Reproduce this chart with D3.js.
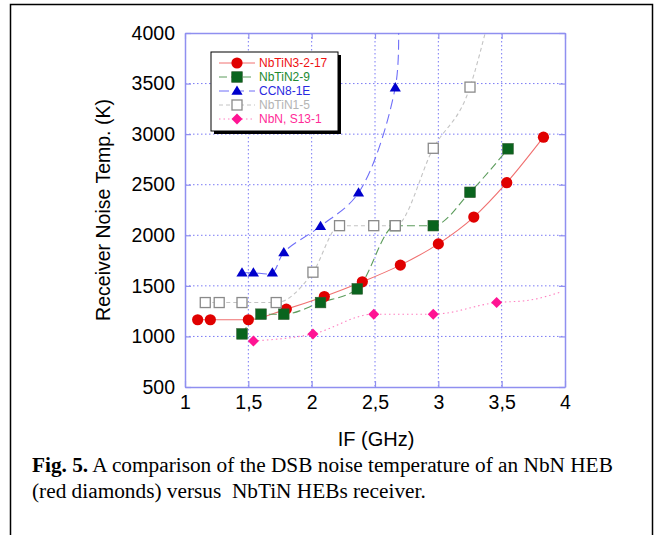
<!DOCTYPE html>
<html>
<head>
<meta charset="utf-8">
<script src="https://cdn.jsdelivr.net/npm/d3@7"></script>
<style>
body { margin: 0; background: #fff; }
svg { display: block; }
</style>
</head>
<body>
<div id="chart"></div>
<script>
// data
var xTicks = [1, 1.5, 2, 2.5, 3, 3.5, 4];
var xTickLabels = ['1', '1,5', '2', '2,5', '3', '3,5', '4'];
var yTicks = [500, 1000, 1500, 2000, 2500, 3000, 3500, 4000];

var seriesNames = ['NbTiN3-2-17', 'NbTiN2-9', 'CCN8-1E', 'NbTiN1-5', 'NbN, S13-1'];

var redIF = [1.10, 1.20, 1.50, 1.80, 2.10, 2.40, 2.70, 3.00, 3.28, 3.54, 3.83];
var redT = [1165, 1165, 1165, 1270, 1395, 1540, 1705, 1915, 2180, 2520, 2970];

var greenIF = [1.45, 1.60, 1.78, 2.07, 2.36, 2.66, 2.96, 3.25, 3.55];
var greenT = [1025, 1220, 1220, 1335, 1470, 2095, 2095, 2425, 2855];

var blueIF = [1.45, 1.54, 1.69, 1.78, 2.07, 2.37, 2.66];
var blueT = [1630, 1630, 1630, 1830, 2090, 2420, 3460];
var blueTail = [[2.685, 4100]];

var greyIF = [1.16, 1.27, 1.45, 1.72, 2.01, 2.22, 2.49, 2.66, 2.96, 3.25];
var greyT = [1335, 1335, 1335, 1335, 1635, 2095, 2095, 2095, 2860, 3465];
var greyTail = [[3.39, 4100]];

var pinkIF = [1.54, 2.01, 2.49, 2.96, 3.46];
var pinkT = [955, 1025, 1220, 1220, 1335];
var pinkTail = [[3.70, 1355], [3.97, 1440]];

var W = 658, H = 535;
var margin = {top: 33, left: 185};
var pw = 380, ph = 354;

var svg = d3.select('#chart').append('svg')
	.attr('width', W).attr('height', H);

svg.append('rect')
	.attr('x', 0).attr('y', 0).attr('width', W).attr('height', H)
	.attr('fill', '#fff');

// outer frame of the figure
svg.append('rect')
	.attr('x', 10.5).attr('y', 4.5).attr('width', 642).attr('height', 560)
	.attr('fill', 'none').attr('stroke', '#000').attr('stroke-width', 1.5);

var x = d3.scaleLinear().domain([1, 4]).range([0, pw]);
var y = d3.scaleLinear().domain([500, 4000]).range([ph, 0]);

var g = svg.append('g')
	.attr('transform', 'translate(' + [margin.left, margin.top] + ')');

g.append('clipPath').attr('id', 'plotclip')
	.append('rect').attr('width', pw).attr('height', ph);

var frameCol = '#8f8ff0';
var gridCol = '#7a7af5';

// dotted grid
g.selectAll('.vgrid')
	.data(xTicks.slice(1, -1))
	.enter().append('line')
	.attr('x1', function(d){ return x(d); }).attr('x2', function(d){ return x(d); })
	.attr('y1', 0).attr('y2', ph)
	.attr('stroke', gridCol).attr('stroke-width', 1).attr('stroke-dasharray', '1.5,2.5');

g.selectAll('.hgrid')
	.data(yTicks.slice(1, -1))
	.enter().append('line')
	.attr('y1', function(d){ return y(d); }).attr('y2', function(d){ return y(d); })
	.attr('x1', 0).attr('x2', pw)
	.attr('stroke', gridCol).attr('stroke-width', 1).attr('stroke-dasharray', '1.5,2.5');

// axes with inner ticks on all four sides
var axisB = g.append('g').attr('transform', 'translate(0,' + ph + ')')
	.call(d3.axisBottom(x).tickValues(xTicks).tickSizeInner(-6).tickSizeOuter(0)
		.tickFormat(function(d, i){ return xTickLabels[i]; }));
var axisT = g.append('g')
	.call(d3.axisTop(x).tickValues(xTicks).tickSizeInner(-6).tickSizeOuter(0).tickFormat(''));
var axisL = g.append('g')
	.call(d3.axisLeft(y).tickValues(yTicks).tickSizeInner(-6).tickSizeOuter(0)
		.tickFormat(d3.format('d')));
var axisR = g.append('g').attr('transform', 'translate(' + pw + ',0)')
	.call(d3.axisRight(y).tickValues(yTicks).tickSizeInner(-6).tickSizeOuter(0).tickFormat(''));

[axisB, axisT, axisL, axisR].forEach(function(a){
	a.select('.domain').attr('stroke', frameCol).attr('stroke-width', 1.5);
	a.selectAll('.tick line').attr('stroke', frameCol).attr('stroke-width', 1.2);
	a.selectAll('text')
		.attr('fill', '#000')
		.style('font-family', 'Liberation Sans, Arial, sans-serif')
		.style('font-size', '19.5px');
});
axisB.selectAll('text').attr('dy', '0.71em').attr('y', 8);
axisL.selectAll('text').attr('x', -10);

// series: colours, dashes, marker shapes
var series = [
	{name: seriesNames[0], xs: redIF, ys: redT, tail: [], line: '#f07070', dash: null, mark: '#e00000', text: '#ee1111', shape: 'circle', curve: d3.curveMonotoneX},
	{name: seriesNames[1], xs: greenIF, ys: greenT, tail: [], line: '#5c9c5c', dash: '8,4', mark: '#0a641e', text: '#218a30', shape: 'square', curve: d3.curveMonotoneX},
	{name: seriesNames[2], xs: blueIF, ys: blueT, tail: blueTail, line: '#6f6ff8', dash: '10,5', mark: '#0000cc', text: '#2a2ae0', shape: 'triangle', curve: d3.curveCatmullRom.alpha(0.5)},
	{name: seriesNames[3], xs: greyIF, ys: greyT, tail: greyTail, line: '#c4c4c4', dash: '4,3', mark: '#8a8a8a', text: '#b4b4b4', shape: 'open', curve: d3.curveMonotoneX},
	{name: seriesNames[4], xs: pinkIF, ys: pinkT, tail: pinkTail, line: '#ff80c0', dash: '1.5,3', mark: '#ff1493', text: '#ff2a98', shape: 'diamond', curve: d3.curveMonotoneX}
];

var linesG = g.append('g').attr('clip-path', 'url(#plotclip)');
series.forEach(function(s){
	var pts = s.xs.map(function(v, i){ return [v, s.ys[i]]; }).concat(s.tail);
	var lineGen = d3.line()
		.x(function(d){ return x(d[0]); })
		.y(function(d){ return y(d[1]); })
		.curve(s.curve);
	linesG.append('path')
		.attr('d', lineGen(pts))
		.attr('fill', 'none')
		.attr('stroke', s.line)
		.attr('stroke-width', 1.1)
		.attr('stroke-dasharray', s.dash);
});

function drawMarker(sel, s, cx, cy){
	if(s.shape == 'circle'){
		sel.append('circle').attr('cx', cx).attr('cy', cy).attr('r', 5.6).attr('fill', s.mark);
	}
	else if(s.shape == 'square'){
		sel.append('rect').attr('x', cx - 5.3).attr('y', cy - 5.3).attr('width', 10.6).attr('height', 10.6)
			.attr('fill', s.mark).attr('stroke', '#2d5a2d').attr('stroke-width', 0.6);
	}
	else if(s.shape == 'triangle'){
		sel.append('path')
			.attr('d', 'M' + [cx, cy - 5.5] + 'L' + [cx + 5.6, cy + 3.8] + 'L' + [cx - 5.6, cy + 3.8] + 'Z')
			.attr('fill', s.mark);
	}
	else if(s.shape == 'open'){
		sel.append('rect').attr('x', cx - 5).attr('y', cy - 5).attr('width', 10).attr('height', 10)
			.attr('fill', '#fff').attr('stroke', s.mark).attr('stroke-width', 1.3);
	}
	else {
		sel.append('path')
			.attr('d', 'M' + [cx, cy - 5.5] + 'L' + [cx + 5.5, cy] + 'L' + [cx, cy + 5.5] + 'L' + [cx - 5.5, cy] + 'Z')
			.attr('fill', s.mark);
	}
}

// marker stacking: red, pink, blue, green, grey on top
var marksG = g.append('g');
[0, 4, 2, 1, 3].forEach(function(k){
	var s = series[k];
	s.xs.forEach(function(v, i){
		drawMarker(marksG, s, x(v), y(s.ys[i]));
	});
});

// legend
var lg = svg.append('g').attr('transform', 'translate(211,52)');
lg.append('rect').attr('x', 3).attr('y', 3).attr('width', 127).attr('height', 79).attr('fill', '#000');
lg.append('rect').attr('x', 0).attr('y', 0).attr('width', 127).attr('height', 79)
	.attr('fill', '#fff').attr('stroke', '#000').attr('stroke-width', 1);

var items = lg.selectAll('.item')
	.data(series)
	.enter().append('g')
	.attr('transform', function(d, i){ return 'translate(0,' + (11 + i * 14) + ')'; });

items.append('line')
	.attr('x1', 8).attr('x2', 44).attr('y1', 0).attr('y2', 0)
	.attr('stroke', function(d){ return d.line; })
	.attr('stroke-width', 1)
	.attr('stroke-dasharray', function(d){ return d.dash; });

items.each(function(d){
	drawMarker(d3.select(this), d, 26, 0);
});

items.append('text')
	.attr('x', 48).attr('y', 0).attr('dy', '0.36em')
	.attr('fill', function(d){ return d.text; })
	.style('font-family', 'Liberation Sans, Arial, sans-serif')
	.style('font-size', '12px')
	.text(function(d){ return d.name; });

// axis titles
svg.append('text')
	.attr('x', 376).attr('y', 446)
	.attr('text-anchor', 'middle')
	.style('font-family', 'Liberation Sans, Arial, sans-serif')
	.style('font-size', '20px')
	.text('IF (GHz)');

svg.append('text')
	.attr('transform', 'translate(110,210) rotate(-90)')
	.attr('text-anchor', 'middle')
	.style('font-family', 'Liberation Sans, Arial, sans-serif')
	.style('font-size', '19.5px')
	.text('Receiver Noise Temp. (K)');

// caption
var cap = svg.append('text')
	.attr('x', 32).attr('y', 472)
	.style('font-family', 'Liberation Serif, Times New Roman, serif')
	.style('font-size', '21.3px');
cap.append('tspan').style('font-weight', 'bold').text('Fig. 5.');
cap.append('tspan').text(' A comparison of the DSB noise temperature of an NbN HEB');

svg.append('text')
	.attr('x', 32).attr('y', 498)
	.attr('xml:space', 'preserve')
	.style('white-space', 'pre')
	.style('font-family', 'Liberation Serif, Times New Roman, serif')
	.style('font-size', '21.3px')
	.text('(red diamonds) versus  NbTiN HEBs receiver.');
</script>
</body>
</html>
